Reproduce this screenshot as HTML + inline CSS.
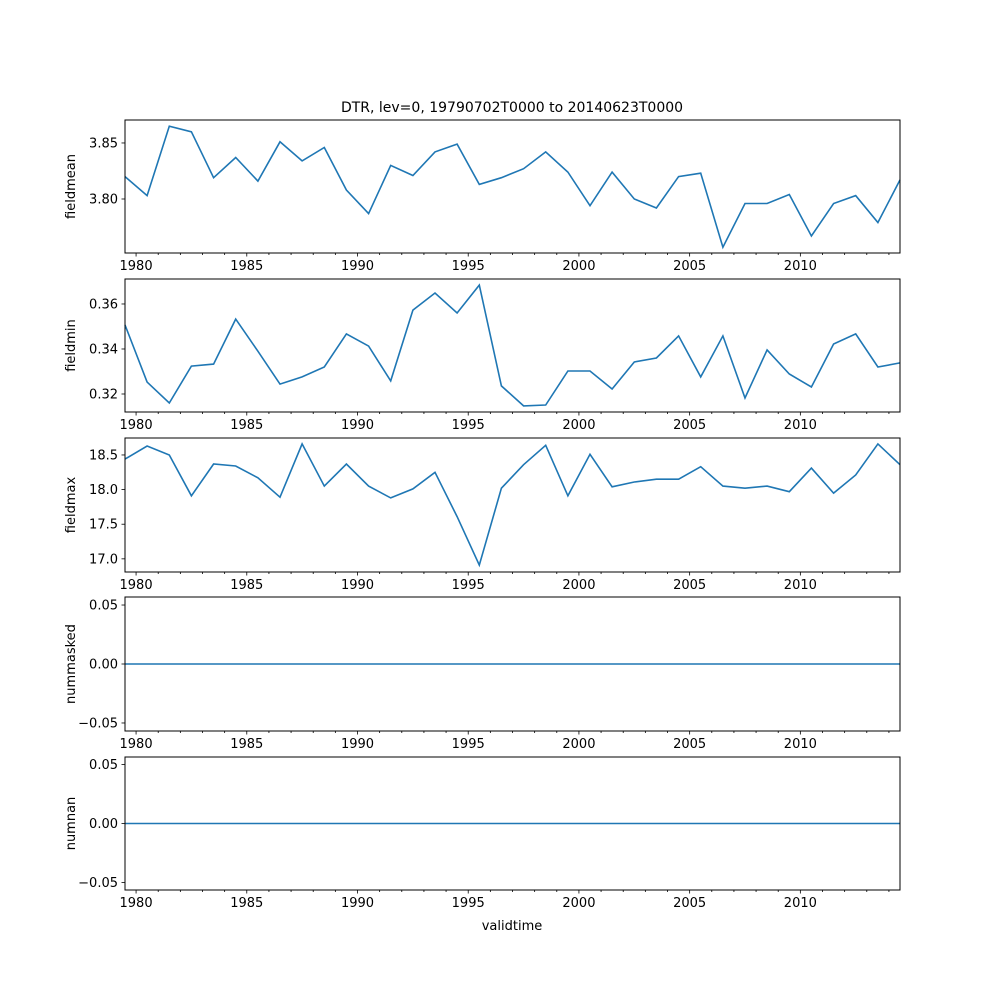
<!DOCTYPE html>
<html><head><meta charset="utf-8"><style>
body{margin:0;background:#fff;}
svg{display:block;font-family:"DejaVu Sans","Liberation Sans",sans-serif;}
</style></head><body>
<svg id="fig" width="1000" height="1000" viewBox="0 0 1000 1000">
<rect width="1000" height="1000" fill="#fff"/>
<text x="512" y="112" font-size="14" text-anchor="middle">DTR, lev=0, 19790702T0000 to 20140623T0000</text>
<text x="512" y="930" font-size="13" text-anchor="middle">validtime</text>
</svg>
<script>
const years = [];
for (let i = 0; i < 36; i++) years.push(1979.5 + i);
const fieldmean = [3.820,3.803,3.865,3.860,3.819,3.837,3.816,3.851,3.834,3.846,3.808,3.787,3.830,3.821,3.842,3.849,3.813,3.819,3.827,3.842,3.824,3.794,3.824,3.800,3.792,3.820,3.823,3.757,3.796,3.796,3.804,3.767,3.796,3.803,3.779,3.817];
const fieldmin = [0.3507,0.3253,0.316,0.3324,0.3333,0.3533,0.339,0.3244,0.3276,0.332,0.3467,0.3413,0.3258,0.3573,0.3649,0.356,0.3684,0.3236,0.3147,0.3151,0.3302,0.3302,0.3222,0.3342,0.336,0.3458,0.3276,0.3458,0.3182,0.3396,0.3289,0.3231,0.3422,0.3467,0.332,0.3338];
const fieldmax = [18.44,18.63,18.50,17.91,18.37,18.34,18.17,17.89,18.66,18.05,18.37,18.05,17.88,18.01,18.25,17.61,16.91,18.02,18.36,18.64,17.91,18.51,18.04,18.11,18.15,18.15,18.33,18.05,18.02,18.05,17.97,18.31,17.95,18.21,18.66,18.36];
const nummasked = new Array(36).fill(0);
const numnan = new Array(36).fill(0);
const xTickLabels = [1980,1985,1990,1995,2000,2005,2010];
const panels = [
  {name:'fieldmean', data:fieldmean, top:120, bot:253, ymin:3.7518, ymax:3.8705, ticks:[3.80,3.85], fmt:v=>v.toFixed(2)},
  {name:'fieldmin', data:fieldmin, top:279, bot:412, ymin:0.312, ymax:0.3711, ticks:[0.32,0.34,0.36], fmt:v=>v.toFixed(2)},
  {name:'fieldmax', data:fieldmax, top:438, bot:572, ymin:16.81, ymax:18.745, ticks:[17.0,17.5,18.0,18.5], fmt:v=>v.toFixed(1)},
  {name:'nummasked', data:nummasked, top:597, bot:731, ymin:-0.0568, ymax:0.0568, ticks:[-0.05,0,0.05], fmt:v=>v.toFixed(2)},
  {name:'numnan', data:numnan, top:757, bot:890, ymin:-0.0563, ymax:0.0563, ticks:[-0.05,0,0.05], fmt:v=>v.toFixed(2)}
];
const NS='http://www.w3.org/2000/svg';
const svg=document.getElementById('fig');
const L=125,R=900,X0=1979.5,X1=2014.5;
const xs=v=>L+(v-X0)/(X1-X0)*(R-L);
function mk(tag,attrs,parent){const e=document.createElementNS(NS,tag);for(const k in attrs)e.setAttribute(k,attrs[k]);(parent||svg).appendChild(e);return e;}
panels.forEach(p=>{
  const g=mk('g',{});
  
  
  const ys=v=>p.bot-(v-p.ymin)/(p.ymax-p.ymin)*(p.bot-p.top);
  const pts=p.data.map((v,i)=>xs(years[i]).toFixed(1)+','+ys(v).toFixed(1)).join(' ');
  const line=mk('polyline',{points:pts,fill:'none',stroke:'#1f77b4','stroke-width':1.6},g);
  
  
  const frame=mk('rect',{x:L,y:p.top,width:R-L,height:p.bot-p.top,fill:'none',stroke:'#000','stroke-width':1},g);
  
  
  for(let y=1980;y<=2014;y++){
    const x=xs(y);
    const major=xTickLabels.includes(y);
    mk('line',{x1:x,x2:x,y1:p.bot,y2:p.bot+(major?3.5:2),stroke:'#000','stroke-width':0.8},g);
  }
  xTickLabels.forEach(y=>{
    const t=mk('text',{x:xs(y),y:p.bot+17,'font-size':13,'text-anchor':'middle'},g);
    t.textContent=y;
    
    
  });
  p.ticks.forEach(v=>{
    const y=ys(v);
    mk('line',{x1:L-3.5,x2:L,y1:y,y2:y,stroke:'#000','stroke-width':0.8},g);
    const t=mk('text',{x:L-7,y:y+4.5,'font-size':13,'text-anchor':'end'},g);
    t.textContent=p.fmt(v).replace('-','\u2212');
    
    
  });
  const cy=(p.top+p.bot)/2;
  const yl=mk('text',{x:0,y:0,'font-size':13,'text-anchor':'middle',transform:`translate(75,${cy}) rotate(-90)`},g);
  yl.textContent=p.name;
  
  
});
</script>
</body></html>
